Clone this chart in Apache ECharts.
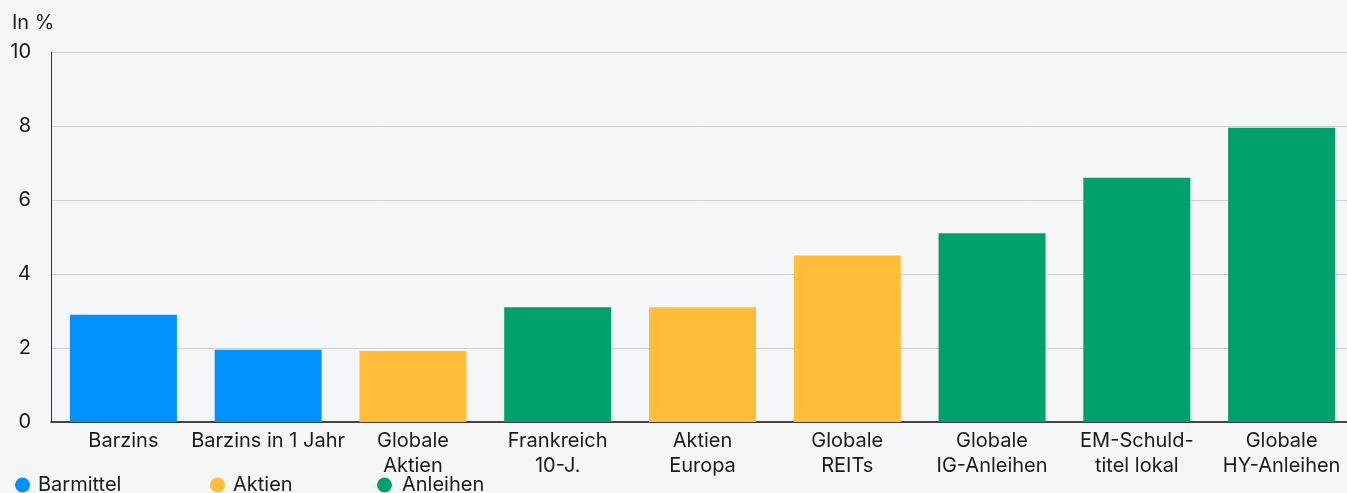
<!DOCTYPE html>
<html>
<head>
<meta charset="utf-8">
<style>
html,body{margin:0;padding:0;background:#F5F6F8;overflow:hidden;}
#c{width:1362px;height:493px;}
</style>
<script src="https://cdn.jsdelivr.net/npm/echarts@6/dist/echarts.min.js"></script>
</head>
<body>
<div id="c"></div>
<script>
const categories = ["Barzins", "Barzins in 1 Jahr", "Globale\nAktien", "Frankreich\n10-J.", "Aktien\nEuropa", "Globale\nREITs", "Globale\nIG-Anleihen", "EM-Schuld-\ntitel lokal", "Globale\nHY-Anleihen"];
const barmittel = [2.9, 1.95, "-", "-", "-", "-", "-", "-", "-"];
const aktien = ["-", "-", 1.92, "-", 3.1, 4.5, "-", "-", "-"];
const anleihen = ["-", "-", "-", 3.1, "-", "-", 5.1, 6.6, 7.95];
const yTicks = [0, 2, 4, 6, 8, 10];
const seriesNames = ["Barmittel", "Aktien", "Anleihen"];
const colors = ["#0091FA", "#FFBD3A", "#00A06B"];

const font = "Inter, 'Noto Sans', sans-serif";
const fs = 20;
const chart = echarts.init(document.getElementById('c'), null, {renderer: 'canvas'});
const legendLefts = [10, 205, 372];
const legendTextPad = [3, 3, 5];
chart.setOption({
  backgroundColor: '#F5F6F8',
  animation: false,
  title: {text: 'In %', left: 7, top: 8, textStyle: {fontFamily: font, fontSize: fs, fontWeight: 'normal', color: '#1a1a1a'}},
  legend: seriesNames.map((n, i) => ({
    data: [n], left: legendLefts[i], top: 470, icon: 'circle', itemWidth: 15, itemHeight: 15, itemGap: 7,
    textStyle: {fontFamily: font, fontSize: fs, color: '#1a1a1a', padding: [0, 0, 0, legendTextPad[i]]}
  })),
  grid: {left: 51, top: 52, width: 1303, bottom: 71, containLabel: false},
  xAxis: {
    type: 'category', data: categories,
    axisLine: {lineStyle: {color: '#111', width: 1.5}},
    axisTick: {show: false},
    axisLabel: {fontFamily: font, fontSize: fs, color: '#1a1a1a', lineHeight: 25, margin: 6, interval: 0}
  },
  yAxis: {
    type: 'value', min: yTicks[0], max: yTicks[yTicks.length - 1], interval: 2,
    axisLine: {show: true, lineStyle: {color: '#333', width: 1}},
    axisTick: {show: false},
    axisLabel: {fontFamily: font, fontSize: fs, color: '#1a1a1a', margin: 20},
    splitLine: {lineStyle: {color: '#cfd0d2', width: 1}}
  },
  series: [barmittel, aktien, anleihen].map((d, i) => ({
    name: seriesNames[i], type: 'bar', stack: 'all', data: d, barWidth: 107,
    itemStyle: {color: colors[i]}
  }))
});
</script>
</body>
</html>
